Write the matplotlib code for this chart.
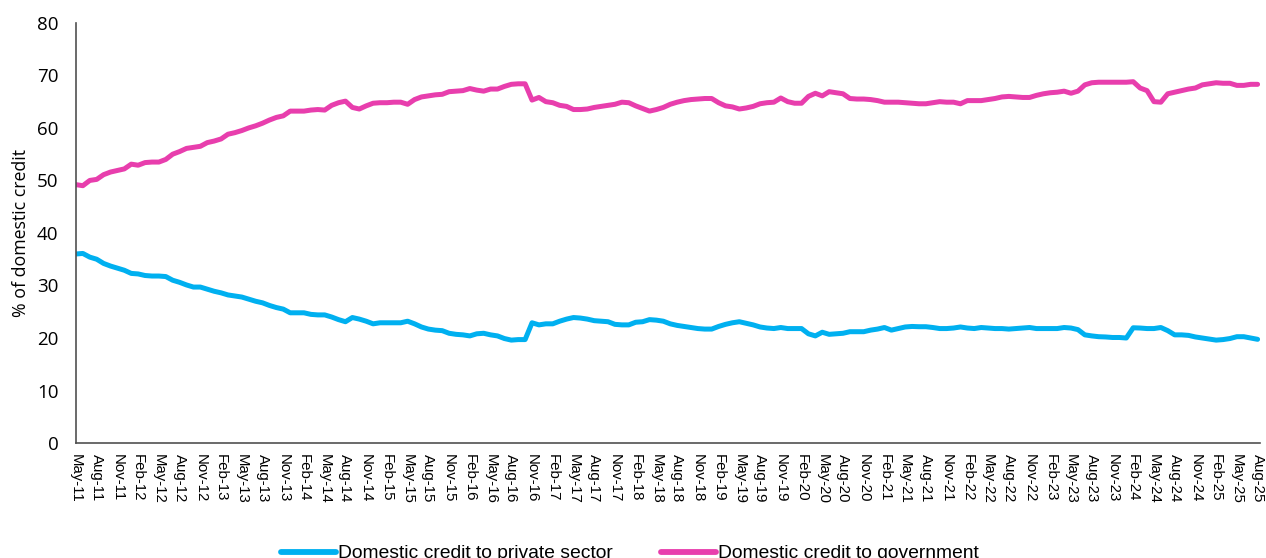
import numpy as np
import pandas as pd
import matplotlib
matplotlib.use("Agg")
import matplotlib.pyplot as plt

# Monthly shares of domestic credit, May 2011 - Aug 2025
start_month = "2011-05"
n_months = 172

credit_private = [
    36.0, 36.1, 35.4, 35.0, 34.2, 33.7, 33.3, 32.9, 32.3, 32.2, 31.9, 31.8,
    31.8, 31.7, 31.0, 30.6, 30.1, 29.7, 29.7, 29.3, 28.9, 28.6, 28.2, 28.0,
    27.8, 27.4, 27.0, 26.7, 26.2, 25.8, 25.5, 24.8, 24.8, 24.8, 24.5, 24.4,
    24.4, 24.0, 23.5, 23.1, 23.9, 23.6, 23.2, 22.7, 22.9, 22.9, 22.9, 22.9,
    23.2, 22.7, 22.1, 21.7, 21.5, 21.4, 20.9, 20.7, 20.6, 20.4, 20.8, 20.9,
    20.6, 20.4, 19.9, 19.6, 19.7, 19.7, 22.9, 22.5, 22.7, 22.7, 23.2, 23.6,
    23.9, 23.8, 23.6, 23.3, 23.2, 23.1, 22.6, 22.5, 22.5, 23.0, 23.1, 23.5,
    23.4, 23.2, 22.7, 22.4, 22.2, 22.0, 21.8, 21.7, 21.7, 22.2, 22.6, 22.9,
    23.1, 22.8, 22.5, 22.1, 21.9, 21.8, 22.0, 21.8, 21.8, 21.8, 20.8, 20.4,
    21.1, 20.7, 20.8, 20.9, 21.2, 21.2, 21.2, 21.5, 21.7, 22.0, 21.5, 21.8,
    22.1, 22.2, 22.15, 22.15, 22.0, 21.8, 21.8, 21.9, 22.1, 21.9, 21.8, 22.0,
    21.9, 21.8, 21.8, 21.7, 21.8, 21.9, 22.0, 21.8, 21.8, 21.8, 21.8, 22.0,
    21.9, 21.6, 20.6, 20.4, 20.25, 20.2, 20.1, 20.1, 20.0, 21.95, 21.9, 21.8,
    21.8, 22.0, 21.4, 20.6, 20.6, 20.5, 20.2, 20.0, 19.8, 19.6, 19.7, 19.9,
    20.25, 20.25, 20.0, 19.75,
]

credit_government = [
    49.2, 49.0, 50.0, 50.2, 51.1, 51.6, 51.9, 52.2, 53.1, 52.9, 53.4, 53.5,
    53.5, 54.0, 55.0, 55.5, 56.1, 56.3, 56.5, 57.2, 57.5, 57.9, 58.8, 59.1,
    59.5, 60.0, 60.4, 60.9, 61.5, 62.0, 62.3, 63.2, 63.2, 63.2, 63.4, 63.5,
    63.4, 64.3, 64.8, 65.1, 63.9, 63.6, 64.2, 64.7, 64.8, 64.8, 64.9, 64.9,
    64.5, 65.4, 65.9, 66.1, 66.3, 66.4, 66.9, 67.0, 67.1, 67.5, 67.2, 67.0,
    67.4, 67.4, 67.9, 68.3, 68.4, 68.4, 65.3, 65.8, 65.0, 64.8, 64.3, 64.1,
    63.5, 63.5, 63.6, 63.9, 64.1, 64.3, 64.5, 64.9, 64.8, 64.2, 63.7, 63.2,
    63.5, 63.9, 64.5, 64.9, 65.2, 65.4, 65.5, 65.6, 65.6, 64.8, 64.2, 64.0,
    63.6, 63.8, 64.1, 64.6, 64.8, 64.9, 65.7, 65.0, 64.7, 64.7, 66.0, 66.6,
    66.1, 66.9, 66.7, 66.5, 65.6, 65.5, 65.5, 65.4, 65.2, 64.9, 64.9, 64.9,
    64.8, 64.7, 64.6, 64.6, 64.8, 65.0, 64.9, 64.9, 64.6, 65.2, 65.2, 65.2,
    65.4, 65.6, 65.9, 66.0, 65.9, 65.8, 65.8, 66.2, 66.5, 66.7, 66.8, 67.0,
    66.6, 67.0, 68.2, 68.6, 68.7, 68.7, 68.7, 68.7, 68.7, 68.8, 67.6, 67.1,
    65.0, 64.9, 66.5, 66.8, 67.1, 67.4, 67.6, 68.2, 68.4, 68.6, 68.5, 68.5,
    68.1, 68.1, 68.3, 68.3,
]

series_labels = ["Domestic credit to private sector", "Domestic credit to government"]
y_ticks = [0, 10, 20, 30, 40, 50, 60, 70, 80]

months = pd.period_range(start_month, periods=n_months, freq="M")
month_labels = [m.strftime("%b-%y") for m in months]
x = np.arange(n_months)

BLUE = "#00B0F0"
PINK = "#E83EAD"

fig = plt.figure(figsize=(12.66, 5.58), dpi=100)
ax = fig.add_axes([0.060, 0.206, 0.935, 0.753])

ax.plot(x, credit_private, color=BLUE, lw=3.6, solid_joinstyle="round",
        solid_capstyle="round", label=series_labels[0])
ax.plot(x, credit_government, color=PINK, lw=3.6, solid_joinstyle="round",
        solid_capstyle="round", label=series_labels[1])

ax.set_xlim(0, n_months - 1 + 0.3)
ax.set_ylim(0, 80)
ax.set_yticks(y_ticks)
ax.set_yticklabels([str(t) for t in y_ticks], fontsize=13.5, family="Open Sans")
ax.tick_params(axis="y", length=0, pad=12.5)

tick_idx = x[::3]
ax.set_xticks(tick_idx)
ax.set_xticklabels([month_labels[i] for i in tick_idx], rotation=270,
                   fontsize=10.8, family="Liberation Sans", va="top", ha="center")
ax.tick_params(axis="x", length=0, pad=8)

ax.set_ylabel("% of domestic credit", fontsize=12.8, family="Open Sans")
ax.yaxis.set_label_coords(-0.039, 0.5)

for side in ("top", "right"):
    ax.spines[side].set_visible(False)
for side in ("left", "bottom"):
    ax.spines[side].set_color("#505050")
    ax.spines[side].set_linewidth(1.2)

leg = fig.legend(loc="center", bbox_to_anchor=(0.4976, 0.008), ncol=2,
                 frameon=False, prop={"family": "Liberation Sans", "size": 13.9},
                 handlelength=2.85, handletextpad=0.12, columnspacing=2.5)
for h in leg.legend_handles:
    h.set_linewidth(4.2)
    h.set_solid_capstyle("round")

fig.savefig("out.png", dpi=100)
